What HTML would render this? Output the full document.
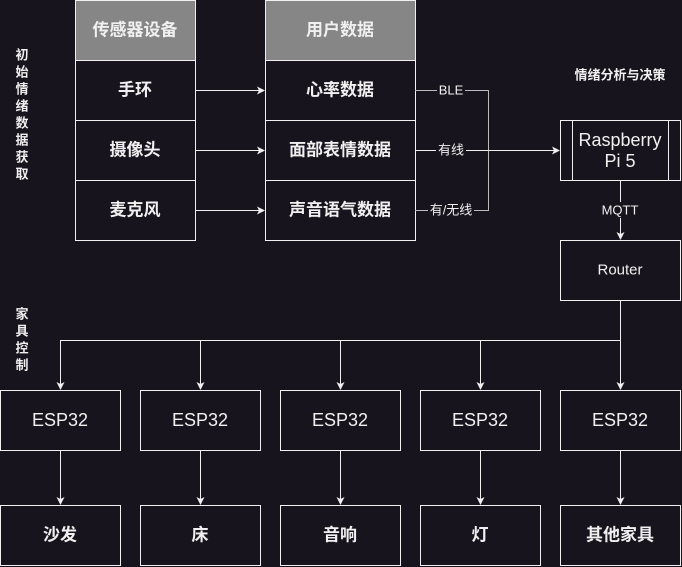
<!DOCTYPE html>
<html><head><meta charset="utf-8"><style>
html,body{margin:0;padding:0;background:#18141d;}
svg{display:block}
text{font-family:"Liberation Sans","Noto Sans CJK SC",sans-serif;fill:#f0f0f0;text-anchor:middle;dominant-baseline:central}
</style></head><body>
<svg width="682" height="567" viewBox="0 0 682 567" xmlns="http://www.w3.org/2000/svg">
<defs><marker id="a" markerWidth="8" markerHeight="8" refX="7" refY="4" orient="auto" markerUnits="userSpaceOnUse"><path d="M0,0 L8,4 L0,8 L2,4 z" fill="#f0f0f0"/></marker></defs>
<rect width="682" height="567" fill="#18141d"/>
<g stroke="#f0f0f0" stroke-width="1" fill="#18141d">
<rect x="75.5" y="0.5" width="120" height="60" fill="#868686"/>
<rect x="75.5" y="60.5" width="120" height="60"/>
<rect x="75.5" y="120.5" width="120" height="60"/>
<rect x="75.5" y="180.5" width="120" height="60"/>
<rect x="265.5" y="0.5" width="150" height="60" fill="#868686"/>
<rect x="265.5" y="60.5" width="150" height="60"/>
<rect x="265.5" y="120.5" width="150" height="60"/>
<rect x="265.5" y="180.5" width="150" height="60"/>
<rect x="560.5" y="120.5" width="120" height="60"/>
<line x1="572.5" y1="120.5" x2="572.5" y2="180.5"/>
<line x1="668.5" y1="120.5" x2="668.5" y2="180.5"/>
<rect x="560.5" y="240.5" width="120" height="60"/>
<rect x="0.5" y="390.5" width="120" height="60"/>
<rect x="140.5" y="390.5" width="120" height="60"/>
<rect x="280.5" y="390.5" width="120" height="60"/>
<rect x="420.5" y="390.5" width="120" height="60"/>
<rect x="560.5" y="390.5" width="120" height="60"/>
<rect x="0.5" y="505.5" width="120" height="60"/>
<rect x="140.5" y="505.5" width="120" height="60"/>
<rect x="280.5" y="505.5" width="120" height="60"/>
<rect x="420.5" y="505.5" width="120" height="60"/>
<rect x="560.5" y="505.5" width="120" height="60"/>
</g>
<g stroke="#f0f0f0" stroke-width="1" fill="none">
<line x1="195" y1="90.5" x2="264" y2="90.5" marker-end="url(#a)"/>
<line x1="195" y1="150.5" x2="264" y2="150.5" marker-end="url(#a)"/>
<line x1="195" y1="210.5" x2="264" y2="210.5" marker-end="url(#a)"/>
<polyline points="415,90.5 488.5,90.5 488.5,210.5 415,210.5" stroke="#bbb"/>
<line x1="415" y1="150.5" x2="559" y2="150.5" marker-end="url(#a)"/>
<line x1="620.5" y1="180" x2="620.5" y2="239" marker-end="url(#a)"/>
<polyline points="620.5,300 620.5,340.5 60.5,340.5 60.5,389" marker-end="url(#a)"/>
<line x1="200.5" y1="340" x2="200.5" y2="389" marker-end="url(#a)"/>
<line x1="340.5" y1="340" x2="340.5" y2="389" marker-end="url(#a)"/>
<line x1="480.5" y1="340" x2="480.5" y2="389" marker-end="url(#a)"/>
<line x1="620.5" y1="340" x2="620.5" y2="389" marker-end="url(#a)"/>
<line x1="60.5" y1="450" x2="60.5" y2="504" marker-end="url(#a)"/>
<line x1="200.5" y1="450" x2="200.5" y2="504" marker-end="url(#a)"/>
<line x1="340.5" y1="450" x2="340.5" y2="504" marker-end="url(#a)"/>
<line x1="480.5" y1="450" x2="480.5" y2="504" marker-end="url(#a)"/>
<line x1="620.5" y1="450" x2="620.5" y2="504" marker-end="url(#a)"/>
</g>
<g font-size="17" font-weight="bold">
<text x="135" y="30" fill="#e6e6e6">传感器设备</text>
<text x="135" y="90">手环</text>
<text x="135" y="150">摄像头</text>
<text x="135" y="210">麦克风</text>
<text x="340" y="30" fill="#e6e6e6">用户数据</text>
<text x="340" y="90">心率数据</text>
<text x="340" y="150">面部表情数据</text>
<text x="340" y="210">声音语气数据</text>
<text x="60" y="535">沙发</text>
<text x="200" y="535">床</text>
<text x="340" y="535">音响</text>
<text x="480" y="535">灯</text>
<text x="620" y="535">其他家具</text>
</g>
<g font-size="18">
<text x="620" y="140">Raspberry</text>
<text x="620" y="161">Pi 5</text>
<text x="620" y="270" font-size="15">Router</text>
<text x="60" y="420">ESP32</text>
<text x="200" y="420">ESP32</text>
<text x="340" y="420">ESP32</text>
<text x="480" y="420">ESP32</text>
<text x="620" y="420">ESP32</text>
</g>
<g font-size="13">
<rect x="437" y="82" width="28" height="16" fill="#18141d"/>
<text x="451" y="90">BLE</text>
<rect x="436" y="142" width="30" height="16" fill="#18141d"/>
<text x="451" y="150">有线</text>
<rect x="428" y="202" width="46" height="16" fill="#18141d"/>
<text x="451" y="210">有/无线</text>
<rect x="597" y="202" width="46" height="16" fill="#18141d"/>
<text x="620" y="210">MQTT</text>
<text x="620" y="75" font-weight="bold">情绪分析与决策</text>
</g>
<g font-size="13" font-weight="bold">
<text x="22" y="55">初</text><text x="22" y="72">始</text><text x="22" y="89">情</text><text x="22" y="106">绪</text>
<text x="22" y="123">数</text><text x="22" y="140">据</text><text x="22" y="157">获</text><text x="22" y="174">取</text>
<text x="22" y="314">家</text><text x="22" y="331">具</text><text x="22" y="348">控</text><text x="22" y="365">制</text>
</g>
</svg>
</body></html>
